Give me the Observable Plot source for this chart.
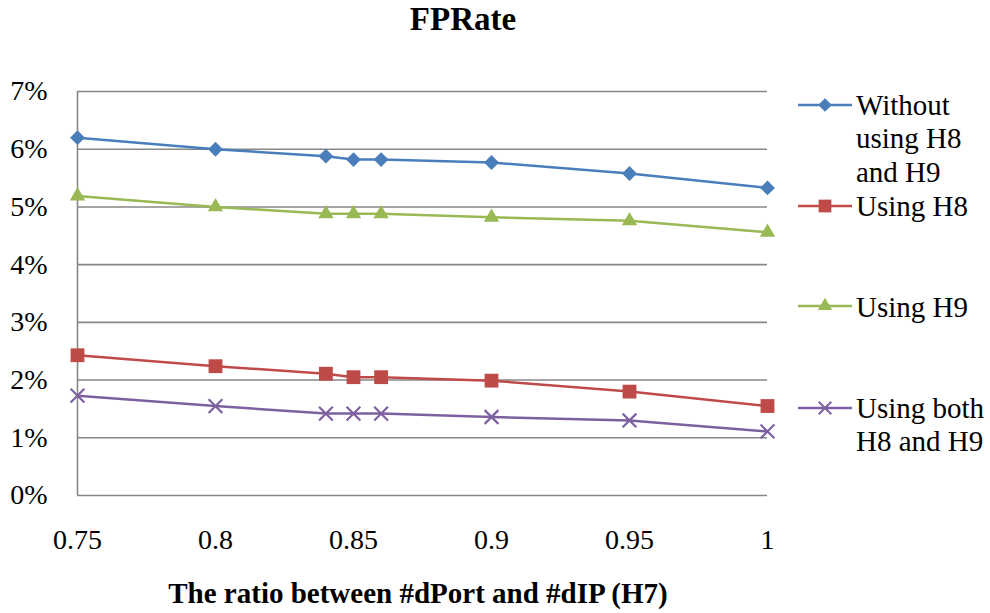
<!DOCTYPE html>
<html>
<head>
<meta charset="utf-8">
<script src="https://cdn.jsdelivr.net/npm/d3@7"></script>
<script src="https://cdn.jsdelivr.net/npm/@observablehq/plot@0.6"></script>
<style>
  html, body { margin: 0; padding: 0; background: #fff; font-family: "Liberation Serif", "Times New Roman", serif; color: #000; }
  #wrap { position: relative; width: 990px; height: 613px; }
  .leg { position: absolute; left: 856px; font-size: 29px; line-height: 33.5px; white-space: nowrap; }
  #title { position: absolute; left: 0; top: 3px; width: 926px; text-align: center; font-weight: bold; font-size: 33px; line-height: 33px; }
  #xlabel { position: absolute; left: 0; top: 579px; width: 836px; text-align: center; font-weight: bold; font-size: 29px; line-height: 29px; }
  #chart { position: absolute; left: 0; top: 0; }
  #legsym { position: absolute; left: 0; top: 0; pointer-events: none; }
</style>
</head>
<body>
<div id="wrap">
  <div class="leg" style="top:88.5px">Without<br>using H8<br>and H9</div>
  <div class="leg" style="top:189.5px">Using H8</div>
  <div class="leg" style="top:290.5px">Using H9</div>
  <div class="leg" style="top:391.5px">Using both<br>H8 and H9</div>
  <div id="chart"></div>
  <svg id="legsym" width="990" height="613"></svg>
  <div id="title">FPRate</div>
  <div id="xlabel">The ratio between #dPort and #dIP (H7)</div>
</div>
<script>
// ---- data ----
const ratios = [0.75, 0.8, 0.84, 0.85, 0.86, 0.9, 0.95, 1];
const withoutH8H9 = [6.20, 6.00, 5.88, 5.82, 5.82, 5.77, 5.58, 5.33];
const usingH8 = [2.43, 2.24, 2.11, 2.05, 2.05, 1.99, 1.80, 1.55];
const usingH9 = [5.19, 5.00, 4.88, 4.88, 4.88, 4.82, 4.76, 4.56];
const usingBoth = [1.73, 1.55, 1.42, 1.42, 1.42, 1.36, 1.30, 1.11];
const xTicks = [0.75, 0.8, 0.85, 0.9, 0.95, 1];
const yTicks = [0, 1, 2, 3, 4, 5, 6, 7];
const seriesNames = ["Without using H8 and H9", "Using H8", "Using H9", "Using both H8 and H9"];

// ---- styles ----
const series = [
  {name: seriesNames[0], values: withoutH8H9, color: "#4A7EBB", symbol: "diamond2", r: 6.7, filled: true},
  {name: seriesNames[1], values: usingH8, color: "#BE4B48", symbol: "square", r: 7.8, filled: true},
  {name: seriesNames[2], values: usingH9, color: "#98B954", symbol: "triangle", r: 5.7, filled: true},
  {name: seriesNames[3], values: usingBoth, color: "#7D60A0", symbol: "times", r: 6.3, filled: false}
];

function render() {
  const marks = [
    Plot.ruleY(yTicks, {stroke: "#878787", strokeWidth: 1.6}),
    Plot.ruleX([0.75], {y1: 0, y2: 7, stroke: "#878787", strokeWidth: 1.6}),
    Plot.axisY({ticks: yTicks, tickFormat: d => d + "%", tickSize: 0, tickPadding: 30, label: null, fill: "#000"}),
    Plot.axisX({ticks: xTicks, tickFormat: d => String(d), tickSize: 0, tickPadding: 34, label: null, fill: "#000"})
  ];
  for (const s of series) {
    const rows = ratios.map((x, i) => ({x, y: s.values[i]}));
    marks.push(Plot.line(rows, {x: "x", y: "y", stroke: s.color, strokeWidth: 2.5}));
    marks.push(s.filled
      ? Plot.dot(rows, {x: "x", y: "y", symbol: s.symbol, r: s.r, fill: s.color, stroke: "none"})
      : Plot.dot(rows, {x: "x", y: "y", symbol: s.symbol, r: s.r, stroke: s.color, strokeWidth: 2.2, fill: "none"}));
  }
  const chart = Plot.plot({
    width: 990,
    height: 613,
    marginLeft: 77,
    marginRight: 223,
    marginTop: 91,
    marginBottom: 118,
    x: {domain: [0.75, 1]},
    y: {domain: [0, 7]},
    style: {fontFamily: "Liberation Serif, Times New Roman, serif", fontSize: "28px", background: "transparent"},
    marks
  });
  chart.querySelectorAll("text").forEach(t => t.setAttribute("font-family", "Liberation Serif"));
  const holder = document.getElementById("chart");
  holder.replaceChildren(chart);
}
render();

// ---- legend symbols ----
const leg = d3.select("#legsym");
const legendY = [105, 206, 306, 408];
const symMap = {diamond2: d3.symbolDiamond2, square: d3.symbolSquare, triangle: d3.symbolTriangle, times: d3.symbolTimes};
series.forEach((s, i) => {
  const y = legendY[i];
  leg.append("line").attr("x1", 798).attr("x2", 852).attr("y1", y).attr("y2", y)
    .attr("stroke", s.color).attr("stroke-width", 2.5);
  const path = d3.symbol(symMap[s.symbol], s.r * s.r * Math.PI * 0.85)();
  const p = leg.append("path").attr("d", path).attr("transform", `translate(825,${y})`);
  if (s.filled) p.attr("fill", s.color); else p.attr("fill", "none").attr("stroke", s.color).attr("stroke-width", 2);
});

// re-render once the regular serif face is surely available
if (document.fonts && document.fonts.load) {
  document.fonts.load('28px "Liberation Serif"').then(render).catch(() => {});
}
</script>
</body>
</html>
